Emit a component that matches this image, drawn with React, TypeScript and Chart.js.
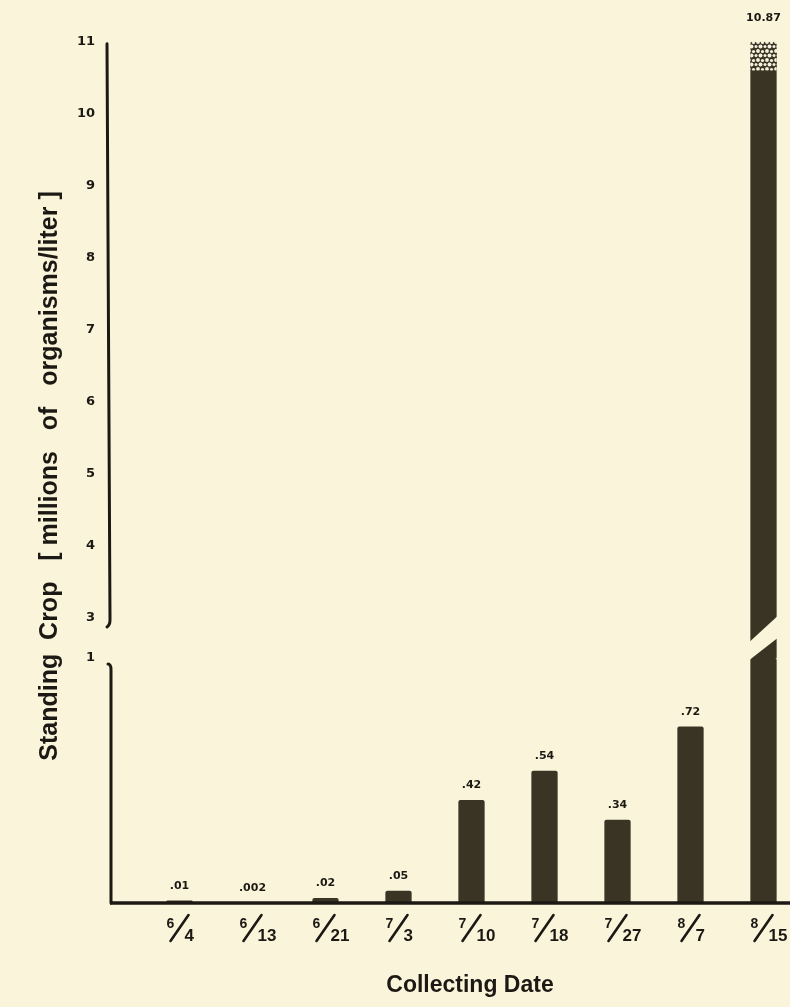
import React, { useEffect, useRef } from 'react';
import { Chart, registerables } from 'chart.js';

Chart.register(...registerables);

// ---- data ----
const categories = ['6/4', '6/13', '6/21', '7/3', '7/10', '7/18', '7/27', '8/7', '8/15'];
const standingCrop = [0.01, 0.002, 0.02, 0.05, 0.42, 0.54, 0.34, 0.72, 10.87];
const valueLabels = ['.01', '.002', '.02', '.05', '.42', '.54', '.34', '.72', '10.87'];
const lowerRange = [0, 1];
const upperRange = [3, 11];
const lowerTicks = [1];
const upperTicks = [3, 4, 5, 6, 7, 8, 9, 10, 11];
const stippleRange = [10.6, 11];
const yTitle = 'Standing  Crop   [ millions   of   organisms/liter ]';
const xTitle = 'Collecting Date';

const BG = '#faf5da';
const BAR = '#3a3424';
const INK = '#1c1914';
const SHIFT = 14; // canvas is moved up by this many px on the page

function makeStipple(): CanvasPattern | string {
  const c = document.createElement('canvas');
  c.width = 9;
  c.height = 9;
  const g = c.getContext('2d');
  if (!g) return '#888';
  g.fillStyle = BAR;
  g.fillRect(0, 0, 9, 9);
  g.fillStyle = '#f6f2e0';
  const dots = [
    [2, 2, 1.9],
    [6.5, 2.5, 1.6],
    [4.5, 6.5, 2.0],
    [0, 6.5, 1.5],
    [9, 6.5, 1.5],
    [2, 11, 1.9],
    [2, -7, 1.9],
  ];
  for (const [x, y, r] of dots) {
    g.beginPath();
    g.arc(x, y, r, 0, Math.PI * 2);
    g.fill();
  }
  const p = g.createPattern(c, 'repeat');
  return p || '#888';
}

const decorPlugin = {
  id: 'decor',
  beforeDraw(chart: any) {
    const ctx = chart.ctx;
    ctx.save();
    ctx.fillStyle = BG;
    ctx.fillRect(0, 0, chart.width, chart.height);
    ctx.restore();
  },
  afterDatasetsDraw(chart: any) {
    const ctx: CanvasRenderingContext2D = chart.ctx;
    const yUp = chart.scales.yUp;
    const yLow = chart.scales.yLow;
    const breakTop = yUp.getPixelForValue(upperRange[0]);
    const breakBot = yLow.getPixelForValue(lowerRange[1]);
    const base = yLow.getPixelForValue(lowerRange[0]);
    const lowMeta = chart.getDatasetMeta(0);
    const gapMeta = chart.getDatasetMeta(1);
    const upMeta = chart.getDatasetMeta(2);
    const stipMeta = chart.getDatasetMeta(3);

    ctx.save();
    // break cut through bars crossing the gap
    gapMeta.data.forEach((bar: any, i: number) => {
      if (standingCrop[i] <= upperRange[0]) return;
      const { x, width } = bar.getProps(['x', 'width'], true);
      const L = x - width / 2 - 1;
      const R = x + width / 2 + 1;
      ctx.fillStyle = BG;
      ctx.beginPath();
      ctx.moveTo(L, breakTop + 24);
      ctx.lineTo(R, breakTop - 2);
      ctx.lineTo(R, breakBot - 20);
      ctx.lineTo(L, breakBot + 2);
      ctx.closePath();
      ctx.fill();
    });

    // axes
    ctx.strokeStyle = INK;
    ctx.lineCap = 'round';
    ctx.lineWidth = 3;
    ctx.beginPath();
    ctx.moveTo(107, yUp.getPixelForValue(upperRange[1]) + 2);
    ctx.lineTo(110, breakTop + 2);
    ctx.quadraticCurveTo(110, breakTop + 7, 107, breakTop + 9);
    ctx.stroke();
    ctx.beginPath();
    ctx.moveTo(108, breakBot + 6);
    ctx.quadraticCurveTo(111, breakBot + 6, 111, breakBot + 12);
    ctx.lineTo(111, base);
    ctx.stroke();
    ctx.lineCap = 'butt';
    ctx.lineWidth = 3.5;
    ctx.beginPath();
    ctx.moveTo(110, base);
    ctx.lineTo(chart.width, base);
    ctx.stroke();

    // value labels
    ctx.fillStyle = INK;
    ctx.textAlign = 'center';
    ctx.textBaseline = 'alphabetic';
    ctx.font = 'bold 11px "DejaVu Sans", sans-serif';
    standingCrop.forEach((v, i) => {
      let top: number;
      let lift = 12;
      const stip = stipMeta.data[i];
      if (standingCrop[i] > stippleRange[0] && stip) {
        top = stip.getProps(['y'], true).y;
        lift = 21;
      } else if (v > upperRange[0]) {
        top = upMeta.data[i].getProps(['y'], true).y;
      } else {
        top = lowMeta.data[i].getProps(['y'], true).y;
      }
      const x = lowMeta.data[i].getProps(['x'], true).x;
      ctx.fillText(valueLabels[i], x, top - lift);
    });

    // fraction date labels
    categories.forEach((c, i) => {
      const [num, den] = c.split('/');
      const cx = lowMeta.data[i].getProps(['x'], true).x;
      ctx.textAlign = 'left';
      ctx.font = 'bold 14px "Liberation Sans", sans-serif';
      ctx.fillText(num, cx - 13, base + 25);
      ctx.lineWidth = 2.6;
      ctx.lineCap = 'round';
      ctx.beginPath();
      ctx.moveTo(cx - 9, base + 38);
      ctx.lineTo(cx + 9, base + 12);
      ctx.stroke();
      ctx.font = 'bold 17px "Liberation Sans", sans-serif';
      ctx.fillText(den, cx + 5, base + 38);
    });

    // titles
    ctx.textAlign = 'center';
    ctx.textBaseline = 'middle';
    ctx.font = 'bold 23px "Liberation Sans", sans-serif';
    ctx.fillText(xTitle, 470, 986 + SHIFT);

    ctx.save();
    ctx.translate(50, 476 + SHIFT);
    ctx.rotate(-Math.PI / 2);
    ctx.font = 'bold 25px "Liberation Sans", sans-serif';
    ctx.fillText(yTitle, 0, 0);
    ctx.restore();

    ctx.restore();
  },
};

export default function App() {
  const ref = useRef<HTMLCanvasElement | null>(null);

  useEffect(() => {
    document.body.style.margin = '0';
    document.body.style.background = BG;
    const canvas = ref.current;
    if (!canvas) return;
    const stipple = makeStipple();

    const lowerData = standingCrop.map((v) => Math.min(v, lowerRange[1]));
    const gapData = standingCrop.map((v) => (v > upperRange[0] ? [-0.05, 1.05] : null));
    const upperData = standingCrop.map((v) => (v > upperRange[0] ? [upperRange[0], v] : null));
    const stippleData = standingCrop.map((v) => (v > stippleRange[0] ? stippleRange.slice() : null));

    const common = {
      backgroundColor: BAR,
      borderWidth: 0,
      grouped: false,
      barPercentage: 0.36,
      categoryPercentage: 1,
      order: 1,
    };

    const yCommon = {
      position: 'left' as const,
      stack: 'broken',
      grid: { display: false, drawTicks: false },
      border: { display: false },
      afterFit: (s: any) => {
        s.width = 143;
      },
    };

    const tickFont = { family: '"DejaVu Sans", sans-serif', weight: 'bold', size: 13 };

    const chart = new Chart(canvas, {
      type: 'bar',
      data: {
        labels: categories,
        datasets: [
          { ...common, label: 'lower', data: lowerData as any, yAxisID: 'yLow', borderRadius: { topLeft: 2, topRight: 2 } as any, borderSkipped: 'bottom' },
          { ...common, label: 'gap', data: gapData as any, yAxisID: 'yGap', borderSkipped: false },
          { ...common, label: 'upper', data: upperData as any, yAxisID: 'yUp', borderRadius: { topLeft: 2, topRight: 2 } as any, borderSkipped: 'bottom' },
          { ...common, label: 'stipple', data: stippleData as any, yAxisID: 'yUp', backgroundColor: stipple as any, borderSkipped: false, order: 0 },
        ],
      },
      options: {
        animation: false,
        responsive: false,
        devicePixelRatio: 1,
        layout: { padding: { top: 27, bottom: 104, left: 0, right: 6 } },
        plugins: { legend: { display: false }, tooltip: { enabled: false } },
        scales: {
          x: { display: false, offset: true, grid: { display: false } },
          yLow: {
            ...yCommon,
            stackWeight: 245,
            min: lowerRange[0],
            max: lowerRange[1],
            afterBuildTicks: (s: any) => {
              s.ticks = lowerTicks.map((v) => ({ value: v }));
            },
            ticks: { padding: 48, color: INK, font: tickFont },
          },
          yGap: {
            ...yCommon,
            stackWeight: 40,
            min: 0,
            max: 1,
            ticks: { display: false },
          },
          yUp: {
            ...yCommon,
            stackWeight: 576,
            min: upperRange[0],
            max: upperRange[1],
            afterBuildTicks: (s: any) => {
              s.ticks = upperTicks.map((v) => ({ value: v }));
            },
            ticks: { padding: 48, color: INK, font: tickFont },
          },
        } as any,
      },
      plugins: [decorPlugin],
    });

    return () => chart.destroy();
  }, []);

  return (
    <div style={{ position: 'fixed', left: 0, top: 0, width: 790, height: 1007, overflow: 'hidden', background: BG }}>
      <canvas
        ref={ref}
        width={806}
        height={1007 + SHIFT}
        style={{ display: 'block', position: 'absolute', left: 0, top: -SHIFT, width: 806, height: 1007 + SHIFT }}
      />
    </div>
  );
}
